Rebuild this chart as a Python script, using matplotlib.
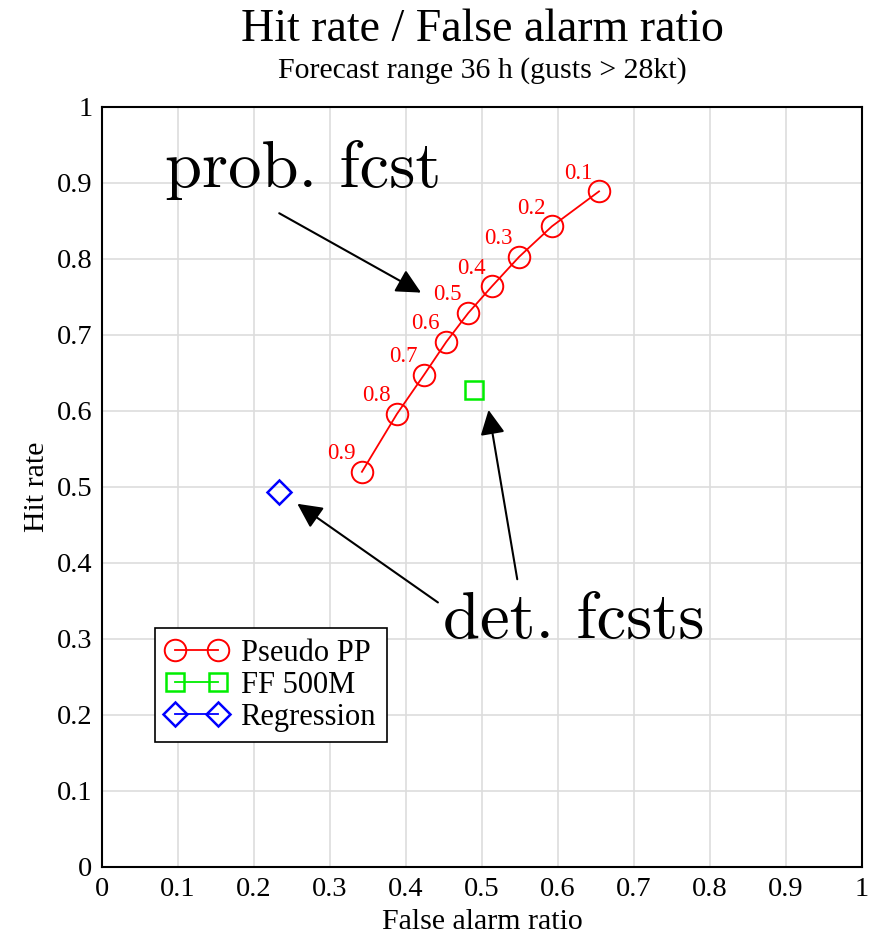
import matplotlib
matplotlib.use("Agg")
import matplotlib.pyplot as plt

# Data
thresholds = ["0.1", "0.2", "0.3", "0.4", "0.5", "0.6", "0.7", "0.8", "0.9"]
pp_far = [0.654, 0.592, 0.549, 0.513, 0.482, 0.453, 0.424, 0.388, 0.342]
pp_hit = [0.889, 0.843, 0.803, 0.764, 0.729, 0.691, 0.648, 0.596, 0.520]
ff_far = [0.490]
ff_hit = [0.628]
reg_far = [0.233]
reg_hit = [0.494]
ticks = [0, 0.1, 0.2, 0.3, 0.4, 0.5, 0.6, 0.7, 0.8, 0.9, 1]
tick_labels = ["0", "0.1", "0.2", "0.3", "0.4", "0.5", "0.6", "0.7", "0.8", "0.9", "1"]

plt.rcParams['font.family'] = ['Liberation Serif', 'DejaVu Serif']

fig = plt.figure(figsize=(8.81, 9.34), dpi=100)
ax = fig.add_axes([102/881, 1-867/934, 760/881, 760/934])

ax.plot(pp_far, pp_hit, color='red', lw=1.3, marker='o', ms=15.5, mfc='none',
        mec='red', mew=1.4, label='Pseudo PP', zorder=3)
ax.plot(ff_far, ff_hit, color='#00ee00', lw=1.3, marker='s', ms=12.5, mfc='none',
        mec='#00ee00', mew=1.8, label='FF 500M', zorder=3)
ax.plot(reg_far, reg_hit, color='blue', lw=1.3, marker='D', ms=12, mfc='none',
        mec='blue', mew=1.8, label='Regression', zorder=3)

for t, x, y in zip(thresholds, pp_far, pp_hit):
    ax.annotate(t, (x, y), xytext=(-15, 13), textcoords='offset points',
                ha='center', va='center', color='red', fontsize=16.5)

ax.set_xlim(0, 1)
ax.set_ylim(0, 1)
ax.set_xticks(ticks)
ax.set_xticklabels(tick_labels)
ax.set_yticks(ticks)
ax.set_yticklabels(tick_labels)
ax.tick_params(length=0, labelsize=20.5, pad=7)
ax.grid(True, color='#dddddd', lw=1.2)
ax.set_axisbelow(True)
for s in ax.spines.values():
    s.set_linewidth(1.5)
ax.set_xlabel('False alarm ratio', fontsize=21.5, labelpad=5)
ax.set_ylabel('Hit rate', fontsize=21.5, labelpad=5)

leg = ax.legend(loc='upper left', bbox_to_anchor=(0.0697, 0.3145), borderaxespad=0,
                numpoints=2, fontsize=22, fancybox=False, edgecolor='black',
                framealpha=1, handlelength=2.0, handletextpad=0.45,
                borderpad=0.35, labelspacing=0.1)
leg.get_frame().set_linewidth(1.2)

# Annotations
cm = 'cmr10'
aprops = dict(arrowstyle='-|>,head_length=1.5,head_width=0.75', color='black', lw=1.5)
ax.annotate('', xy=(0.423, 0.754), xytext=(0.23, 0.862), arrowprops=aprops)
ax.text(0.083, 0.895, 'prob. fcst', fontsize=48, family=cm, ha='left', va='baseline')

ax.annotate('', xy=(0.254, 0.480), xytext=(0.445, 0.346), arrowprops=aprops)
ax.annotate('', xy=(0.508, 0.605), xytext=(0.547, 0.375), arrowprops=aprops)
ax.text(0.449, 0.301, 'det. fcsts', fontsize=48, family=cm, ha='left', va='baseline')

fig.text(482/881, 1-41/934, 'Hit rate / False alarm ratio', fontsize=33,
         ha='center', va='baseline')
fig.text(482/881, 1-78/934, 'Forecast range 36 h (gusts > 28kt)', fontsize=21.5,
         ha='center', va='baseline')

fig.savefig('out.png', dpi=100)
